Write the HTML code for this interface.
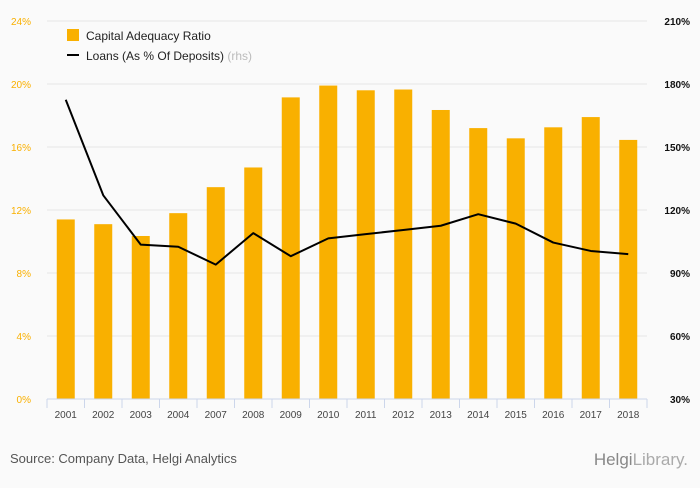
<!DOCTYPE html>
<html><head><meta charset="utf-8"><style>
html,body{margin:0;padding:0;background:#fafafa;}
svg text{font-family:"Liberation Sans",sans-serif;}
</style></head><body>
<svg id="chart" width="700" height="483" xmlns="http://www.w3.org/2000/svg">
<rect width="700" height="483" fill="#fafafa"/>
<g id="grid"></g><g id="bars"></g><g id="axes"></g><g id="line"></g>
<g>
<rect x="67" y="29" width="12" height="12" fill="#f9b000"/>
<text x="86" y="40" font-size="12" fill="#222">Capital Adequacy Ratio</text>
<line x1="67" y1="55" x2="79" y2="55" stroke="#000" stroke-width="2"/>
<text x="86" y="60" font-size="12" fill="#222">Loans (As % Of Deposits) <tspan fill="#bbb">(rhs)</tspan></text>
</g>
<text x="10" y="463" font-size="13" fill="#555">Source: Company Data, Helgi Analytics</text>
<text x="688" y="465" font-size="17" fill="#aaa" text-anchor="end" font-family="Liberation Serif"><tspan fill="#888">Helgi</tspan>Library.</text>
</svg>
<script>
const categories=["2001","2002","2003","2004","2007","2008","2009","2010","2011","2012","2013","2014","2015","2016","2017","2018"];
const carValues=[11.4,11.1,10.35,11.8,13.45,14.7,19.15,19.9,19.6,19.65,18.35,17.2,16.55,17.25,17.9,16.45];
const loanValues=[172.5,127,103.5,102.5,94,109,98,106.5,108.5,110.5,112.5,118,113.5,104.5,100.5,99];
const leftTicks=[0,4,8,12,16,20,24];
const rightTicks=[30,60,90,120,150,180,210];
const NS="http://www.w3.org/2000/svg";
const x0=47,x1=647,yBot=399,yTop=21;
const step=(x1-x0)/categories.length;
const xc=i=>x0+step*(i+0.5);
const yL=v=>yBot-(v/24)*(yBot-yTop);
const yR=v=>yBot-((v-30)/180)*(yBot-yTop);
function mk(tag,attrs,parent){const e=document.createElementNS(NS,tag);for(const k in attrs)e.setAttribute(k,attrs[k]);document.getElementById(parent).appendChild(e);return e;}
leftTicks.forEach((t,i)=>{
 if(i>0){const g=mk('line',{x1:x0,x2:x1,y1:yL(t),y2:yL(t),stroke:'#e6e6e6','stroke-width':1},'grid');
 
 }
 const l=mk('text',{x:31,y:yL(t)+4,'font-size':10,fill:'#f9b000','text-anchor':'end'},'axes');l.textContent=t+'%';
 
 
});
rightTicks.forEach(t=>{
 const l=mk('text',{x:690,y:yR(t)+4,'font-size':10,fill:'#111','font-weight':'bold','text-anchor':'end'},'axes');l.textContent=t+'%';
 
 
});
const ax=mk('line',{x1:x0,x2:x1,y1:yBot,y2:yBot,stroke:'#ccd6eb','stroke-width':1},'axes');


for(let i=0;i<=categories.length;i++){
 const tk=mk('line',{x1:x0+step*i,x2:x0+step*i,y1:yBot,y2:yBot+9,stroke:'#ccd6eb'},'axes');
 
 
}
categories.forEach((c,i)=>{
 const b=mk('rect',{x:xc(i)-9,y:yL(carValues[i]),width:18,height:yBot-yL(carValues[i]),fill:'#f9b000'},'bars');
 
 
 const t=mk('text',{x:xc(i),y:418,'font-size':10,fill:'#444','text-anchor':'middle'},'axes');t.textContent=c;
 
 
});
const p=mk('polyline',{points:loanValues.map((v,i)=>xc(i)+','+yR(v)).join(' '),fill:'none',stroke:'#000','stroke-width':2,'stroke-linejoin':'round'},'line');


</script>
</body></html>
